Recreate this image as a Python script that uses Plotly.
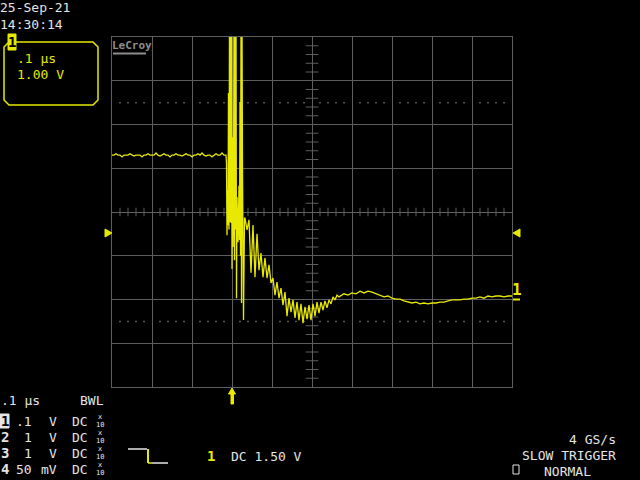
import plotly.graph_objects as go

# ---------------- data (time in ns relative to trigger, level in mV from screen centre) -------------
time_ns = [
    -300, -295, -290, -285, -280, -275, -270, -265, -260, -255, -250, -245, -240, -235, -230,
    -225, -220, -215, -210, -205, -200, -195, -190, -185, -180, -175, -170, -165, -160, -155,
    -150, -145, -140, -135, -130, -125, -120, -115, -110, -105, -100, -95, -90, -85, -80,
    -75, -70, -65, -60, -55, -50, -45, -40, -35, -30, -25, -20, -15,
    -13.75, -12.5, -11.25, -10, -8.75, -7.5, -6.25, -5, -3.75, -2.5, -1.25, 0, 1.25, 2.5,
    3.75, 5, 6.25, 7.5, 8.75, 10, 11.25, 12.5, 15, 17.5, 18.75, 20, 21.25, 22.5, 23.75, 25,
    26.25, 28.75, 31.25,
    32.5, 37.5, 42.5, 47.5, 52.5, 57.5, 62.5, 67.5, 72.5, 77.5, 82.5, 87.5, 92.5, 97.5,
    102.5, 107.5, 112.5, 117.5, 122.5, 127.5, 132.5, 137.5, 142.5, 147.5, 152.5, 157.5,
    162.5, 167.5, 172.5, 177.5, 182.5, 187.5, 192.5, 197.5, 202.5, 207.5, 212.5, 217.5,
    222.5, 227.5, 232.5, 237.5, 242.5, 247.5, 252.5, 257.5, 262.5, 267.5,
    280, 290, 300, 310, 320, 330, 340, 350, 360, 370, 380, 390, 400, 410, 420, 430, 440,
    450, 460, 470, 480, 490, 500, 510, 520, 530, 540, 550, 560, 570, 580, 590, 600, 610,
    620, 630, 640, 650, 660, 670, 680, 690, 700,
]
level_mV = [
    130, 130, 133, 130, 130, 126, 130, 130, 130, 133, 130, 128, 130, 130, 130,
    126, 130, 130, 133, 130, 130, 130, 135, 130, 128, 130, 133, 130, 130, 126,
    130, 130, 133, 130, 130, 128, 130, 133, 130, 130, 126, 130, 130, 133, 130,
    135, 130, 128, 130, 130, 126, 130, 133, 130, 130, 135, 130, 130,
    112, -53, 50, -30, 272, -40, 450, -23, 450, -25, 450, -130, 171, -80,
    30, 450, -110, 450, -40, 450, -197, 34, -69, 60, -64, 251, -100, 450, -208, 450,
    96, -247, -14,
    -14, -41, -18, -139, -30, -149, -50, -133, -94, -149, -105, -151, -121, -162,
    -151, -190, -160, -197, -174, -213, -183, -238, -197, -229, -201, -242,
    -206, -247, -210, -254, -217, -245, -213, -247, -210, -238, -206, -231,
    -206, -224, -203, -219, -201, -210, -194, -201, -190, -194,
    -187, -190, -185, -187, -181, -185, -181, -183, -187, -190, -194, -192, -197, -199, -199, -203, -206,
    -208, -206, -210, -208, -210, -208, -208, -206, -206, -203, -201, -201, -201, -199, -199, -197, -197,
    -194, -197, -192, -194, -192, -192, -194, -192, -192,
]

trigger_level_mV = -48
channel1_ref_mV = -201
date_text = "25-Sep-21"
time_text = "14:30:14"
channel_rows = [("1", ".1", "V"), ("2", "1", "V"), ("3", "1", "V"), ("4", "50", "mV")]

# ---------------- styling ----------------
YEL = "#e8e800"
GRID = "#5e5e5e"
WHITE = "#e4e4e4"
MONO = "DejaVu Sans Mono"

L, R, T, B = 112, 512, 37, 387


def px(x):
    return (x - L) / (R - L)


def py(y):
    return (B - y) / (B - T)


fig = go.Figure()

# graticule dotted rows at +/-2.5 div
dot_x = [t for t in range(-280, 700, 20) if t % 100 != 0]
for lv in (250, -250):
    fig.add_trace(go.Scatter(x=dot_x, y=[lv] * len(dot_x), mode="markers",
                             marker=dict(symbol="square", size=1.5, color="#6e6e6e"),
                             hoverinfo="skip", showlegend=False))
# centre crosshair minor ticks
vt = [v for v in range(-380, 400, 20) if v % 100 != 0]
fig.add_trace(go.Scatter(x=[200] * len(vt), y=vt, mode="markers",
                         marker=dict(symbol="line-ew", size=9, line=dict(width=1, color=GRID)),
                         hoverinfo="skip", showlegend=False))
ht = [t for t in range(-280, 700, 20) if t % 100 != 0]
fig.add_trace(go.Scatter(x=ht, y=[0] * len(ht), mode="markers",
                         marker=dict(symbol="line-ns", size=6, line=dict(width=1, color=GRID)),
                         hoverinfo="skip", showlegend=False))

# the waveform
fig.add_trace(go.Scatter(x=time_ns, y=level_mV, mode="lines",
                         line=dict(color=YEL, width=1.3), hoverinfo="skip", showlegend=False))

axis_common = dict(showgrid=True, gridcolor=GRID, gridwidth=1, zeroline=False,
                   showticklabels=False, ticks="", showline=True, mirror=True,
                   linecolor=GRID, linewidth=1, fixedrange=True)
fig.update_xaxes(range=[-300, 700], tick0=-300, dtick=100, **axis_common)
fig.update_yaxes(range=[-400, 400], tick0=-400, dtick=100, **axis_common)

shapes = []
annotations = []


def txt(s, x, y, color=WHITE, size=13, anchor="left", bold=False, family=MONO):
    annotations.append(dict(text=("<b>%s</b>" % s) if bold else s, x=px(x), y=py(y),
                            xref="paper", yref="paper", xanchor=anchor, yanchor="middle",
                            showarrow=False, borderpad=0, borderwidth=0,
                            font=dict(family=family, size=size, color=color)))


def path(points, color, fill=True, width=1):
    d = "M " + " L ".join("%f,%f" % (px(a), py(b)) for a, b in points) + " Z"
    shapes.append(dict(type="path", path=d, xref="paper", yref="paper",
                       line=dict(color=color, width=width),
                       fillcolor=color if fill else "rgba(0,0,0,0)"))


def line(x0, y0, x1, y1, color, width=1):
    shapes.append(dict(type="line", x0=px(x0), y0=py(y0), x1=px(x1), y1=py(y1),
                       xref="paper", yref="paper", line=dict(color=color, width=width)))


# date/time
txt(date_text, 0, 8)
txt(time_text, 0, 24)

# channel box top-left
r = 5
box = [(4 + r, 42), (98 - r, 42), (98, 42 + r), (98, 105 - r), (98 - r, 105), (4 + r, 105),
       (4, 105 - r), (4, 42 + r)]
path(box, YEL, fill=False, width=1.5)
path([(8, 34), (16, 34), (16, 50), (8, 50)], YEL)
txt("1", 12, 42, color="#000000", size=14, anchor="center", bold=True)
txt(".1 µs", 17, 59, color=YEL)
txt("1.00 V", 17, 74, color=YEL)

# LeCroy logo
txt("LeCroy", 112, 46, color="#8c8c8c", size=11, bold=True)
line(113, 53.5, 146, 53.5, "#8c8c8c", 2)

# trigger level markers
path([(105, 229), (112, 233), (105, 237)], YEL)
path([(520, 229), (513, 233), (520, 237)], YEL)

# channel 1 marker on right
txt("1", 512, 289, color=YEL, size=16, bold=True)
line(513, 299.5, 520, 299.5, YEL, 2)

# trigger position arrow
path([(228.5, 394), (235.5, 394), (232, 388)], YEL)
path([(231, 394), (233.5, 394), (233.5, 404), (231, 404)], YEL)

# bottom-left status
txt(".1 µs", 1, 400)
txt("BWL", 80, 400)
row_y = [421, 437, 453, 469]
for (ch, val, unit), yy in zip(channel_rows, row_y):
    if ch == "1":
        path([(0, 414), (9, 414), (9, 428), (0, 428)], WHITE)
        txt(ch, 4.5, yy, color="#000000", size=14, anchor="center", bold=True)
    else:
        txt(ch, 4.5, yy, size=14, anchor="center", bold=True)
    txt(val, 32, yy, anchor="right")
    txt(unit, 57, yy, anchor="right")
    txt("DC", 72, yy)
    txt("x", 100, yy - 4, size=7, anchor="center")
    txt("10", 100, yy + 4, size=7, anchor="center")

# trigger symbol
line(128, 449, 147, 449, WHITE, 1.5)
line(148, 449, 148, 463, YEL, 2)
line(148, 463, 152, 463, YEL, 1.5)
line(152, 463, 168, 463, WHITE, 1.5)
txt("1", 210.5, 456, color=YEL, size=14, anchor="center", bold=True)
txt("DC 1.50 V", 231, 456)

# bottom-right status
txt("4 GS/s", 616, 439, anchor="right")
txt("SLOW TRIGGER", 616, 455, anchor="right")
path([(513, 465), (519, 465), (519, 474), (513, 474)], WHITE, fill=False, width=1)
txt("NORMAL", 544, 471)

fig.update_layout(width=640, height=480, paper_bgcolor="#000000", plot_bgcolor="#000000",
                  margin=dict(l=L, r=640 - R, t=T, b=480 - B), shapes=shapes,
                  annotations=annotations, showlegend=False)

fig.write_html("out.html", config={"displayModeBar": False},
               post_script="document.body.style.margin='0px';"
                           "document.body.style.background='#000000';")
